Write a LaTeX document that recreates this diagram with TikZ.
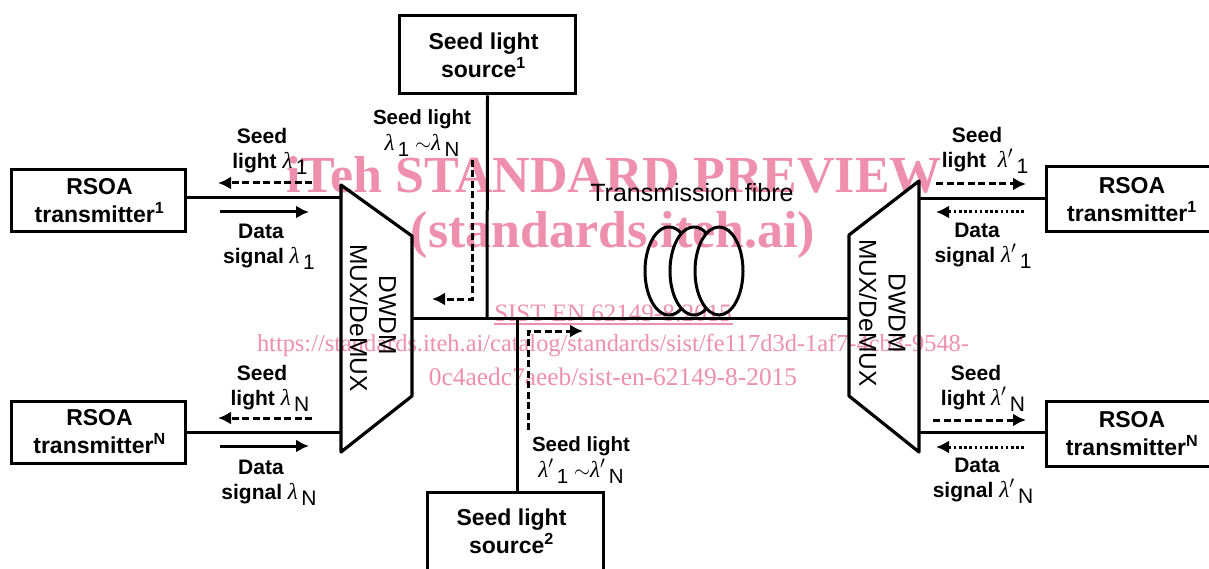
\documentclass[tikz,border=0pt]{standalone}
\usepackage{fontspec}
\setmainfont{Liberation Sans}
\newfontfamily\wmfont{Liberation Serif}
\usetikzlibrary{arrows.meta}
\definecolor{wmpink}{HTML}{EE8FAE}
\newcommand{\lam}[2]{{\wmfont\mdseries\itshape\fontsize{23}{23}\selectfont λ#1}\raisebox{-6pt}{\normalfont\,#2}}
\tikzset{
  box/.style={draw,line width=3pt,minimum height=62pt,inner sep=0pt,align=center,font=\fontsize{23}{28}\selectfont\bfseries},
  lbl/.style={align=center,inner sep=0pt,font=\fontsize{21}{25}\selectfont\bfseries},
  lblw/.style={lbl,font=\fontsize{20.5}{26}\selectfont\bfseries},
  mux/.style={rotate=-90,inner sep=0pt,font=\fontsize{24.5}{26}\selectfont},
  wm/.style={text=wmpink,inner sep=0pt,font=\wmfont},
  wire/.style={line width=3pt},
  trap/.style={line width=3.2pt,line join=round},
  coil/.style={line width=3pt},
  sol/.style={line width=3pt,-{Latex[length=13pt,width=13pt]}},
  dsh/.style={line width=3pt,dash pattern=on 7pt off 3.5pt,-{Latex[length=13pt,width=13pt]}},
  dot/.style={line width=3pt,dash pattern=on 2.6pt off 2.6pt,-{Latex[length=13pt,width=13pt]}},
}
\begin{document}
\begin{tikzpicture}[x=1pt,y=-1pt]
\useasboundingbox (0,0) rectangle (1209,569);
\fill[white] (0,0) rectangle (1209,569);
% watermark
\node[wm,font=\wmfont\bfseries\fontsize{52}{52}\selectfont] (w1) at (614,175) {iTeh STANDARD PREVIEW};
\node[wm,font=\wmfont\bfseries\fontsize{52}{52}\selectfont] (w2) at (613,235) {(standards.iteh.ai)};
\node[wm,font=\wmfont\fontsize{25}{25}\selectfont] (w3) at (613,313) {SIST EN 62149-8:2015};
\draw[wmpink,line width=1.4pt] (494,324) -- (733,324);
\node[wm,font=\wmfont\fontsize{24.4}{25}\selectfont] (w4) at (613,346) {https://standards.iteh.ai/catalog/standards/sist/fe117d3d-1af7-4cb3-9548-};
\node[wm,font=\wmfont\fontsize{25.4}{25}\selectfont] (w5) at (613,377) {0c4aedc7aeeb/sist-en-62149-8-2015};
% boxes
\node[box,minimum width=174pt] (t1) at (98,201) {\hspace*{3pt}RSOA\\\hspace*{3pt}transmitter\textsuperscript{1}};
\node[box,minimum width=174pt] (tN) at (98,432) {\hspace*{3pt}RSOA\\\hspace*{3pt}transmitter\textsuperscript{N}};
\node[box,minimum width=176pt,minimum height=78pt] (s1) at (487.5,55) {\raisebox{-1pt}{Seed light}\hspace*{8pt}\\\raisebox{-1pt}{source\textsuperscript{1}}\hspace*{8pt}};
\node[box,minimum width=176pt,minimum height=78pt] (s2) at (515.5,531) {\raisebox{-1pt}{Seed light}\hspace*{8pt}\\\raisebox{-1pt}{source\textsuperscript{2}}\hspace*{8pt}};
\node[box,minimum width=180pt,minimum height=65pt] (r1) at (1136,199.5) {RSOA\hspace*{8pt}\\transmitter\textsuperscript{1}\hspace*{8pt}};
\node[box,minimum width=180pt,minimum height=65pt] (rN) at (1136,433.5) {RSOA\hspace*{8pt}\\transmitter\textsuperscript{N}\hspace*{8pt}};
% multiplexers
\coordinate (la) at (341,185); \coordinate (lb) at (412,236); \coordinate (lc) at (412,396); \coordinate (ld) at (341,452);
\coordinate (ra) at (919,181); \coordinate (rb) at (849,235); \coordinate (rc) at (849,396); \coordinate (rd) at (919,452);
\draw[trap] (la) -- (lb) -- (lc) -- (ld) -- cycle;
\draw[trap] (ra) -- (rb) -- (rc) -- (rd) -- cycle;
\node[mux] (lm1) at (387.5,315) {DWDM};
\node[mux] (lm2) at (359,318) {MUX/DeMUX};
\node[mux] (rm1) at (897,313) {DWDM};
\node[mux] (rm2) at (868,313) {MUX/DeMUX};
% wires
\coordinate (t1e) at (185,198); \coordinate (t1m) at (341,198);
\coordinate (tNe) at (185,432); \coordinate (tNm) at (341,432);
\coordinate (r1w) at (1046,199); \coordinate (r1m) at (919,199);
\coordinate (rNw) at (1046,432); \coordinate (rNm) at (919,432);
\coordinate (ml) at (412,318); \coordinate (mr) at (849,318);
\coordinate (j1) at (487,318); \coordinate (j2) at (517,318);
\draw[wire] (t1e) -- (t1m);
\draw[wire] (tNe) -- (tNm);
\draw[wire] (r1w) -- (r1m);
\draw[wire] (rNw) -- (rNm);
\draw[wire] (ml) -- (mr);
\draw[wire] (s1.south) -- (j1);
\draw[wire] (s2.north -| j2) -- (j2);
% fibre coil
\draw[coil] plot[domain=58:302,samples=70] ({669+24*cos(\x)},{271+44*sin(\x)});
\draw[coil] plot[domain=58:302,samples=70] ({694+24*cos(\x)},{271+44*sin(\x)});
\draw[coil] (719,271) ellipse (24pt and 44pt);
\node[inner sep=0pt,font=\fontsize{25}{26}\selectfont] (tf) at (692,193) {Transmission fibre};
% signal arrows
\coordinate (a1s) at (312,183); \coordinate (a1e) at (218,183);
\coordinate (a2s) at (220,212); \coordinate (a2e) at (309,212);
\coordinate (a3s) at (312,418); \coordinate (a3e) at (218,418);
\coordinate (a4s) at (220,446); \coordinate (a4e) at (309,446);
\draw[dsh] (a1s) -- (a1e);
\draw[sol] (a2s) -- (a2e);
\draw[dsh] (a3s) -- (a3e);
\draw[sol] (a4s) -- (a4e);
\coordinate (b1s) at (472,160); \coordinate (b1c) at (472,299); \coordinate (b1e) at (432,299);
\coordinate (b2s) at (528,430); \coordinate (b2c) at (528,331); \coordinate (b2e) at (583,331);
\draw[dsh] (b1s) -- (b1c) -- (b1e);
\draw[dsh] (b2s) -- (b2c) -- (b2e);
\coordinate (c1s) at (936,184); \coordinate (c1e) at (1026,184);
\coordinate (c2s) at (1024,212); \coordinate (c2e) at (936,212);
\coordinate (c3s) at (933,420); \coordinate (c3e) at (1026,420);
\coordinate (c4s) at (1024,447); \coordinate (c4e) at (936,447);
\draw[dsh] (c1s) -- (c1e);
\draw[dot] (c2s) -- (c2e);
\draw[dsh] (c3s) -- (c3e);
\draw[dot] (c4s) -- (c4e);
% labels
\node[lbl] (l1) at (270,151) {Seed\hspace*{16pt}\\light \lam{}{1}};
\node[lbl] (l2) at (269,247) {Data\hspace*{16pt}\\signal \lam{}{1}};
\node[lbl] (l3) at (270,388) {Seed\hspace*{16pt}\\light \lam{}{N}};
\node[lbl] (l4) at (269,483) {Data\hspace*{16pt}\\signal \lam{}{N}};
\node[lblw] (l5) at (422,133) {Seed light\\\lam{}{1}\ {\mdseries$\sim$}\lam{}{N}};
\node[lblw] (l6) at (581,460) {Seed light\\\lam{$'$}{1}\ {\mdseries$\sim$}\lam{$'$}{N}};
\node[lbl] (l7) at (985,150) {Seed\hspace*{16pt}\\light \ \lam{$'$}{1}};
\node[lbl] (l8) at (983,246) {Data\hspace*{12pt}\\signal \lam{$'$}{1}};
\node[lbl] (l9) at (983,388) {Seed\hspace*{14pt}\\light \lam{$'$}{N}};
\node[lbl] (l10) at (983,481) {Data\hspace*{12pt}\\signal \lam{$'$}{N}};
\end{tikzpicture}
\end{document}
